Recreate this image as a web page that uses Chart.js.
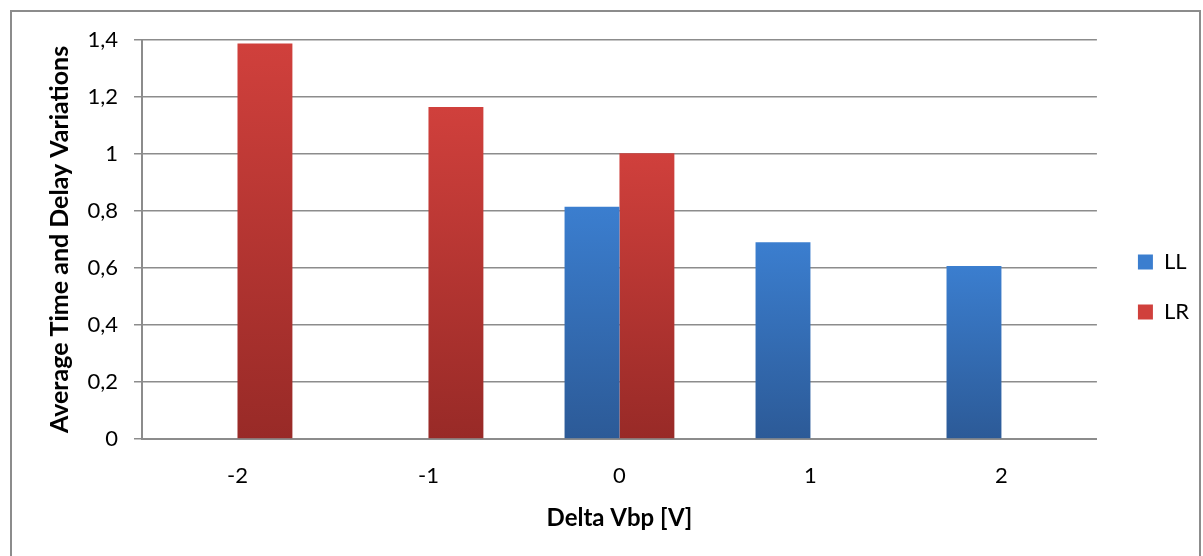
<!DOCTYPE html>
<html>
<head>
<meta charset="utf-8">
<script src="https://cdn.jsdelivr.net/npm/chart.js@4.4.0/dist/chart.umd.min.js"></script>
<style>
  html, body { margin: 0; padding: 0; background: #fff; }
  #wrap { width: 1203px; height: 556px; position: relative; }
</style>
</head>
<body>
<div id="wrap"><canvas id="chart" width="1203" height="556"></canvas></div>
<script>
// Data
const categories = ['-2', '-1', '0', '1', '2'];
const llValues = [null, null, 0.815, 0.69, 0.607];
const lrValues = [1.388, 1.165, 1.003, null, null];

const FONT = 'Lato, "Open Sans", sans-serif';
const BLUE = ['#3b7ecf', '#2c5a97'];
const RED = ['#d0403c', '#982a27'];

// vertical gradient per bar, like the Excel fill
function barGradient(cols) {
  return (ctx) => {
    const chart = ctx.chart;
    const y = chart.scales.y;
    if (!y || ctx.raw == null) return cols[0];
    const y0 = y.getPixelForValue(ctx.raw);
    const y1 = y.getPixelForValue(0);
    if (!isFinite(y0) || !isFinite(y1) || y0 === y1) return cols[0];
    const g = chart.ctx.createLinearGradient(0, y0, 0, y1);
    g.addColorStop(0, cols[0]);
    g.addColorStop(1, cols[1]);
    return g;
  };
}

// outer frame around the chart + nudge the legend a bit to the right
const framePlugin = {
  id: 'frame',
  afterLayout(chart) {
    if (chart.legend) {
      chart.legend.left += 13;
      chart.legend.right += 13;
    }
  },
  beforeDraw(chart) {
    const c = chart.ctx;
    c.save();
    c.strokeStyle = '#8c8c8c';
    c.lineWidth = 2;
    c.strokeRect(11, 11, 1189, 600);
    c.restore();
  }
};

const fmt = (v) => Math.abs(v - Math.round(v)) < 1e-9 ? String(Math.round(v)) : v.toFixed(1).replace('.', ',');

new Chart(document.getElementById('chart'), {
  type: 'bar',
  data: {
    labels: categories,
    datasets: [
      { label: 'LL', data: llValues, backgroundColor: barGradient(BLUE), borderWidth: 0 },
      { label: 'LR', data: lrValues, backgroundColor: barGradient(RED), borderWidth: 0 }
    ]
  },
  options: {
    responsive: false,
    animation: false,
    datasets: { bar: { categoryPercentage: 0.575, barPercentage: 1.0 } },
    layout: { padding: { top: 40, left: 10, right: 17, bottom: 22 } },
    plugins: {
      tooltip: { enabled: false },
      legend: {
        position: 'right',
        labels: {
          font: { family: FONT, size: 22 },
          color: '#000',
          boxWidth: 15,
          boxHeight: 15,
          padding: 28,
          generateLabels(chart) {
            const cols = [BLUE, RED];
            return chart.data.datasets.map((ds, i) => ({
              text: ds.label, fillStyle: cols[i][0], strokeStyle: cols[i][0],
              lineWidth: 0, datasetIndex: i, fontColor: '#000'
            }));
          }
        }
      }
    },
    scales: {
      x: {
        afterFit: (s) => { s.height = 95; },
        grid: { display: false, drawTicks: false },
        border: { display: true, color: '#8c8c8c', width: 2 },
        ticks: { font: { family: FONT, size: 22 }, color: '#000', padding: 24 },
        title: {
          display: true,
          text: 'Delta Vbp [V]',
          font: { family: FONT, size: 24, weight: 'bold' },
          color: '#000',
          padding: { top: 0, bottom: 1 }
        }
      },
      y: {
        min: 0,
        max: 1.4,
        afterFit: (s) => { s.width = 132; },
        ticks: {
          stepSize: 0.2,
          font: { family: FONT, size: 22 },
          color: '#000',
          padding: 16,
          callback: fmt
        },
        grid: { color: '#8c8c8c', lineWidth: 1.5, tickLength: 8 },
        border: { display: true, color: '#8c8c8c', width: 2 },
        title: {
          display: true,
          text: 'Average Time and Delay Variations',
          font: { family: FONT, size: 25, weight: 'bold' },
          color: '#000',
          padding: { top: 35, bottom: 0 }
        }
      }
    }
  },
  plugins: [framePlugin]
});
</script>
</body>
</html>
